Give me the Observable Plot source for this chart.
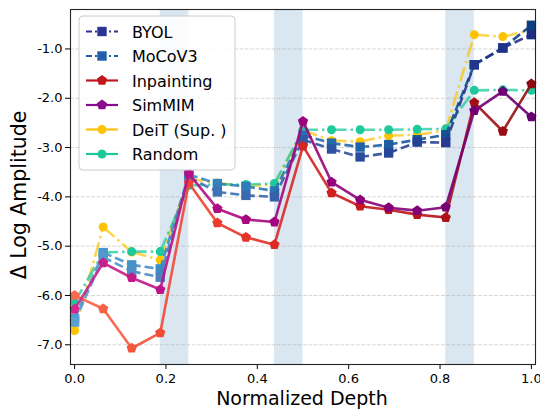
<!DOCTYPE html>
<html>
<head>
<meta charset="utf-8">
<script src="https://cdn.jsdelivr.net/npm/d3@7"></script>
<script src="https://cdn.jsdelivr.net/npm/@observablehq/plot@0.6"></script>
<style>
  html, body { margin: 0; padding: 0; background: white; }
  #chart { width: 540px; height: 409px; }
</style>
</head>
<body>
<div id="chart"></div>
<script>
// ---- data ----
const depth = [0, 0.0625, 0.125, 0.1875, 0.25, 0.3125, 0.375, 0.4375, 0.5, 0.5625, 0.625, 0.6875, 0.75, 0.8125, 0.875, 0.9375, 1.0];
const byol       = [-6.54, -5.22, -5.51, -5.63, -3.60, -3.90, -3.97, -4.00, -2.84, -3.03, -3.19, -3.11, -2.89, -2.90, -1.32, -0.98, -0.71];
const mocov3     = [-6.47, -5.13, -5.38, -5.46, -3.55, -3.73, -3.79, -3.88, -2.75, -2.91, -2.99, -2.94, -2.84, -2.74, -1.32, -0.98, -0.52];
const inpainting = [-6.00, -6.27, -7.07, -6.76, -3.72, -4.53, -4.82, -4.97, -2.97, -3.92, -4.19, -4.26, -4.36, -4.42, -2.09, -2.67, -1.71];
const simmim     = [-6.28, -5.34, -5.64, -5.88, -3.53, -4.24, -4.46, -4.51, -2.47, -3.70, -4.06, -4.22, -4.28, -4.21, -2.25, -1.86, -2.38];
const deit       = [-6.71, -4.61, -5.12, -5.28, -3.63, -3.72, -3.78, -3.75, -2.65, -2.86, -2.88, -2.76, -2.74, -2.65, -0.71, -0.75, -0.62];
const random     = [-6.14, -5.13, -5.11, -5.11, -3.77, -3.75, -3.75, -3.73, -2.64, -2.64, -2.64, -2.64, -2.63, -2.62, -1.84, -1.83, -1.84];
const seriesNames = ["BYOL", "MoCoV3", "Inpainting", "SimMIM", "DeiT (Sup. )", "Random"];
const xTicks = [0, 0.2, 0.4, 0.6, 0.8, 1.0];
const yTicks = [-7, -6, -5, -4, -3, -2, -1];
const spanStart = [0.1875, 0.4375, 0.8125];
const spanEnd = [0.25, 0.5, 0.875];

// ---- styles ----
const pentagon = {
  draw(ctx, size) {
    const R = Math.sqrt(size / (2.5 * Math.sin(2 * Math.PI / 5)));
    for (let k = 0; k < 5; k++) {
      const a = -Math.PI / 2 + k * 2 * Math.PI / 5;
      const px = R * Math.cos(a), py = R * Math.sin(a);
      if (k === 0) ctx.moveTo(px, py); else ctx.lineTo(px, py);
    }
    ctx.closePath();
  }
};

const styles = {
  "BYOL":        {values: byol, color: d3.interpolateRgbBasis(["#5aa1d1", "#2c52a3", "#1e2d84"]), dash: "9,4", symbol: "square", r: 5.3, op: 0.9, legend: "#2c3593", ldash: "6,3,2,3"},
  "MoCoV3":      {values: mocov3, color: d3.interpolateRgbBasis(["#4e9dcf", "#2470b5", "#0f3e80"]), dash: "9,4", symbol: "square", r: 5.3, op: 0.9, legend: "#1f5ea8", ldash: "6,3,2,3"},
  "Inpainting":  {values: inpainting, color: t => d3.interpolateReds(0.5 + 0.42 * t), dash: null, symbol: pentagon, r: 4.7, op: 0.9, legend: "#c0181d", ldash: null},
  "SimMIM":      {values: simmim, color: t => d3.interpolateRdPu(0.66 + 0.27 * t), dash: null, symbol: pentagon, r: 4.7, op: 0.9, legend: "#8a0b8c", ldash: null},
  "DeiT (Sup. )":{values: deit, color: t => "#fdc300", dash: "15,4,2.5,4", symbol: "circle", r: 4.5, op: 0.7, legend: "#fdc20a", ldash: null},
  "Random":      {values: random, color: t => "#1ec99b", dash: "15,4,2.5,4", symbol: "circle", r: 4.5, op: 0.75, legend: "#1dc99b", ldash: null}
};
const drawOrder = ["DeiT (Sup. )", "Random", "MoCoV3", "BYOL", "Inpainting", "SimMIM"];

const spans = spanStart.map((s, i) => ({x1: s, x2: spanEnd[i]}));

const seriesMarks = drawOrder.flatMap(name => {
  const st = styles[name];
  const pts = depth.map((x, i) => ({x, y: st.values[i]}));
  const segs = d3.pairs(pts).map(([a, b]) => ({x1: a.x, y1: a.y, x2: b.x, y2: b.y, t: (a.x + b.x) / 2}));
  return [
    Plot.link(segs, {x1: "x1", y1: "y1", x2: "x2", y2: "y2", stroke: d => st.color(d.t), strokeWidth: 2.6, strokeOpacity: st.op, strokeDasharray: st.dash || undefined, strokeLinecap: "butt"}),
    Plot.dot(pts, {x: "x", y: "y", fill: d => st.color(d.x), r: st.r, symbol: st.symbol, stroke: "none"})
  ];
});

const fmt = d => d.toFixed(1);

const chart = Plot.plot({
  width: 540,
  height: 409,
  marginLeft: 70,
  marginRight: 5,
  marginTop: 9,
  marginBottom: 45,
  style: {fontFamily: "DejaVu Sans", fontSize: "13px", background: "white", color: "black", overflow: "visible"},
  color: {type: "identity"},
  x: {domain: [-0.009, 1.009], ticks: xTicks, tickFormat: fmt, tickSize: 5, tickPadding: 4, label: null},
  y: {domain: [-7.4, -0.2], ticks: yTicks, tickFormat: fmt, tickSize: 5, tickPadding: 3, label: null},
  marks: [
    Plot.rect(spans, {x1: "x1", x2: "x2", fill: "steelblue", fillOpacity: 0.2}),
    Plot.ruleY(yTicks, {stroke: "#b0b0b0", strokeOpacity: 0.6, strokeDasharray: "3.7,1.6", strokeWidth: 0.9}),
    ...seriesMarks,
    Plot.frame({stroke: "#262626", strokeWidth: 1.1})
  ]
});

document.getElementById("chart").appendChild(chart);

// ---- axis labels ----
const svg = d3.select(chart);
svg.append("text")
  .attr("x", 302).attr("y", 405)
  .attr("text-anchor", "middle")
  .attr("font-family", "DejaVu Sans").attr("font-size", 19).attr("fill", "black")
  .text("Normalized Depth");
svg.append("text")
  .attr("transform", "translate(26,195) rotate(-90)")
  .attr("text-anchor", "middle")
  .attr("font-family", "DejaVu Sans").attr("font-size", 20.5).attr("fill", "black")
  .text("Δ Log Amplitude");

// ---- legend ----
const lg = svg.append("g").attr("text-anchor", "start");
lg.append("rect")
  .attr("x", 79).attr("y", 16).attr("width", 156).attr("height", 154)
  .attr("rx", 4).attr("fill", "white").attr("fill-opacity", 0.85)
  .attr("stroke", "#cccccc").attr("stroke-width", 1);
const symGen = s => d3.symbol().type(s === "square" ? d3.symbolSquare : s === "circle" ? d3.symbolCircle : s);
seriesNames.forEach((name, i) => {
  const st = styles[name];
  const cy = 31.5 + i * 24.5;
  lg.append("line")
    .attr("x1", 86).attr("x2", 118).attr("y1", cy).attr("y2", cy)
    .attr("stroke", st.legend).attr("stroke-width", 2.2)
    .attr("stroke-dasharray", st.ldash);
  lg.append("path")
    .attr("transform", `translate(102,${cy})`)
    .attr("d", symGen(st.symbol).size(Math.PI * st.r * st.r)())
    .attr("fill", st.legend);
  lg.append("text")
    .attr("x", 132).attr("y", cy + 6)
    .attr("text-anchor", "start")
    .attr("font-family", "DejaVu Sans").attr("font-size", 16).attr("fill", "black")
    .text(name);
});
</script>
</body>
</html>
